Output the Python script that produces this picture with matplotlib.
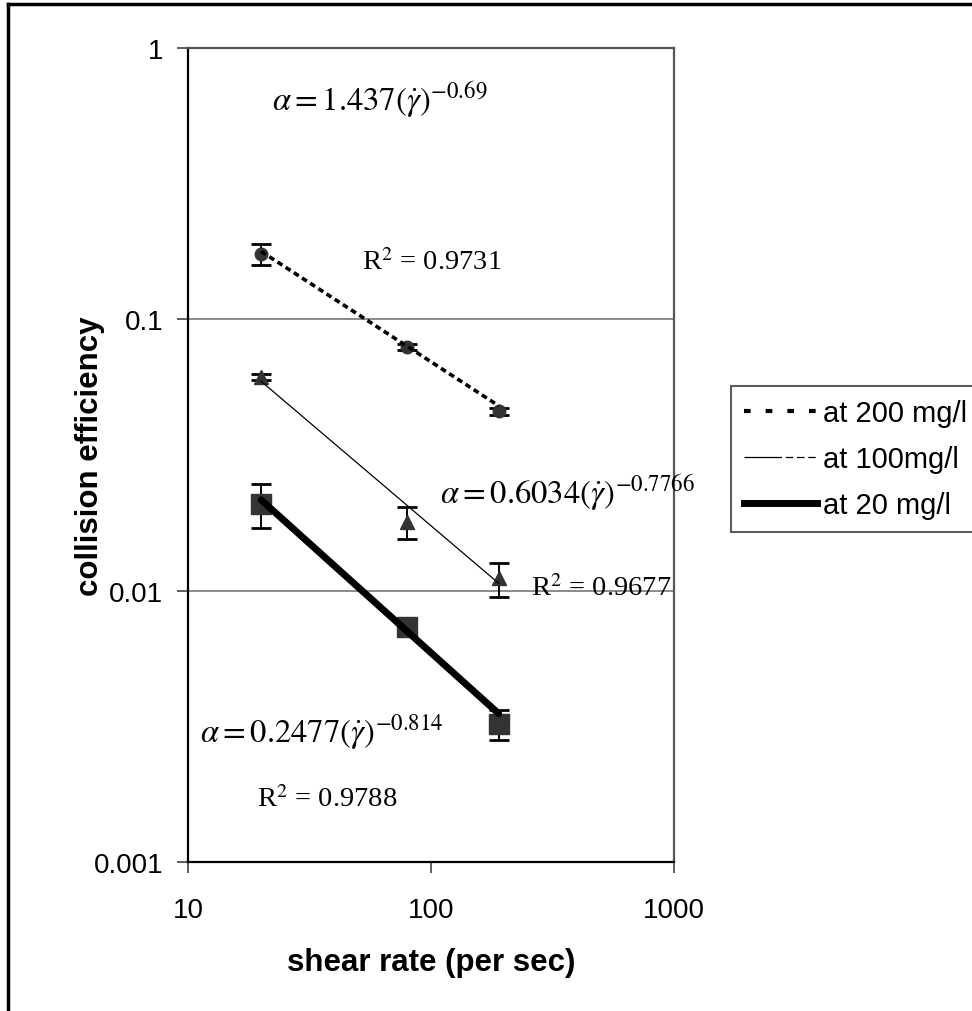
import matplotlib
matplotlib.use('Agg')
import matplotlib.pyplot as plt
from matplotlib.lines import Line2D

# measured points (shear rate, collision efficiency, error)
shear = [20, 80, 190]
eff_200 = [0.174, 0.0792, 0.0458]
err_200 = [0.015, 0.002, 0.0015]
eff_100 = [0.0615, 0.0179, 0.0111]
err_100 = [0.0015, 0.0024, 0.0016]
eff_20 = [0.0209, 0.00735, 0.00322]
err_20 = [0.0039, 0.0004, 0.0004]

# power-law trend lines, end points
trend_x = [20, 190]
trend_200 = [0.178, 0.048]
trend_100 = [0.0591, 0.01064]
trend_20 = [0.0216, 0.00352]

labels = ['at 200 mg/l', 'at 100mg/l', 'at 20 mg/l']
eqs = [r'$\alpha = 1.437(\dot{\gamma})^{-0.69}$',
       r'$\alpha = 0.6034(\dot{\gamma})^{-0.7766}$',
       r'$\alpha = 0.2477(\dot{\gamma})^{-0.814}$']
r2s = [r'R$^2$ = 0.9731', r'R$^2$ = 0.9677', r'R$^2$ = 0.9788']

plt.rcParams['font.family'] = ['Liberation Sans', 'DejaVu Sans']
plt.rcParams['mathtext.fontset'] = 'stix'

W, H = 972, 1012
fig = plt.figure(figsize=(W / 100, H / 100), dpi=100)
ax = fig.add_axes([188 / W, 1 - 863 / H, 486 / W, 814 / H])

ax.set_xscale('log')
ax.set_yscale('log')
ax.set_xlim(10, 1000)
ax.set_ylim(0.001, 1)
ax.set_xticks([10, 100, 1000])
ax.set_xticklabels(['10', '100', '1000'])
ax.set_yticks([0.001, 0.01, 0.1, 1])
ax.set_yticklabels(['0.001', '0.01', '0.1', '1'])
ax.minorticks_off()
ax.tick_params(labelsize=20, direction='out', length=8, width=1.2, color='#444444')
ax.tick_params(axis='x', pad=17)
ax.tick_params(axis='y', pad=10)
ax.yaxis.grid(True, color='#777777', lw=1.2)
ax.set_axisbelow(True)
for s in ['left', 'bottom']:
  ax.spines[s].set_linewidth(1.6)
  ax.spines[s].set_color('black')
for s in ['top', 'right']:
  ax.spines[s].set_linewidth(1.6)
  ax.spines[s].set_color('#555555')

mk = dict(color='#333333', ecolor='black', elinewidth=1.4, capsize=7, capthick=2, ls='none', zorder=3)
ax.errorbar(shear, eff_200, yerr=err_200, marker='o', ms=9, **mk)
ax.errorbar(shear, eff_100, yerr=err_100, marker='^', ms=10, **mk)
ax.errorbar(shear, eff_20, yerr=err_20, marker='s', ms=14, **mk)

ax.plot(trend_x, trend_200, color='black', lw=2.6, ls=(0, (1.6, 1.1)), dash_capstyle='butt', zorder=4)
ax.plot(trend_x, trend_100, color='black', lw=0.9, zorder=4)
ax.plot(trend_x, trend_20, color='black', lw=5, solid_capstyle='round', zorder=4)

ax.set_xlabel('shear rate (per sec)', fontsize=22.5, fontweight='bold')
ax.set_ylabel('collision efficiency', fontsize=22.5, fontweight='bold')
ax.xaxis.set_label_coords(0.5, (863 - 963) / 814)
ax.xaxis.label.set_va('center')
ax.yaxis.set_label_coords((90 - 188) / 486, 0.5)
ax.yaxis.label.set_va('center')

# fitted equations
eq_pos = [(272, 100), (440, 493), (200, 732)]
r2_pos = [(362, 263), (531, 589), (257, 800)]
for t, (x, y) in zip(eqs, eq_pos):
  fig.text(x / W, 1 - y / H, t, fontsize=23.5, ha='left', va='center')
for t, (x, y) in zip(r2s, r2_pos):
  fig.text(x / W, 1 - y / H, t, fontsize=20.5, ha='left', va='center',
           family=['Liberation Serif'])

handles = [Line2D([], [], color='black', lw=3, ls=(0, (1.6, 3.6)), dash_capstyle='butt'),
           Line2D([], [], color='black', lw=0.9, ls=(0, (30, 3, 6, 3, 6, 3, 6, 3))),
           Line2D([], [], color='black', lw=5)]
leg = fig.legend(handles, labels, loc='upper left',
                 bbox_to_anchor=(731 / W, 1 - 387 / H, 300 / W, 0.0), mode='expand',
                 fontsize=21, frameon=True, fancybox=False, edgecolor='#333333',
                 handlelength=2.5, handletextpad=0.2, borderpad=0.45, labelspacing=0.62,
                 borderaxespad=0)
leg.get_frame().set_linewidth(1.5)

# outer chart frame (right and bottom edges fall outside the picture)
fig.add_artist(Line2D([8 / W, 8 / W], [0, 1 - 5 / H], color='black', lw=2.5, transform=fig.transFigure))
fig.add_artist(Line2D([8 / W, 1], [1 - 5 / H, 1 - 5 / H], color='black', lw=2.5, transform=fig.transFigure))

plt.savefig('out.png', dpi=100)
plt.close()
